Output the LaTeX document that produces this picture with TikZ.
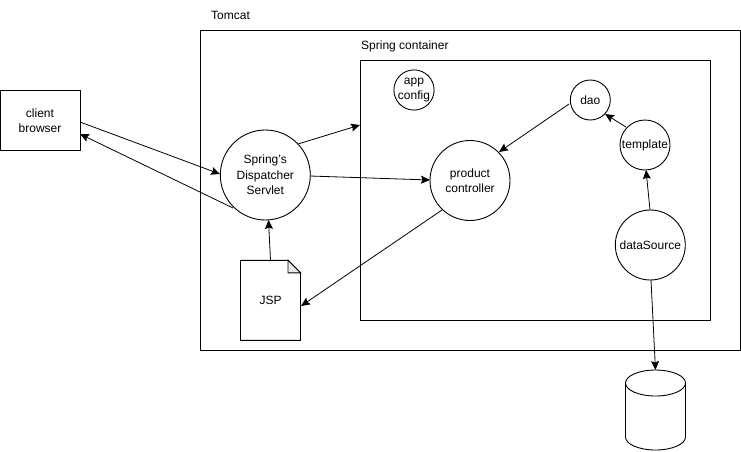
\documentclass[tikz,border=0pt]{standalone}
\usepackage{fontspec}
\setmainfont{Liberation Sans}
\usetikzlibrary{arrows.meta,shapes.geometric}
\tikzset{
  x=1pt,y=-1pt,
  box/.style={draw=black,line width=0.9pt,fill=white,inner sep=0,align=center,font=\fontsize{12}{15.5}\selectfont},
  circ/.style={box,circle},
  lbl/.style={inner sep=0,font=\fontsize{12}{15}\selectfont},
  link/.style={draw=black,line width=0.8pt,-{Stealth[length=9pt,width=8pt,inset=1.5pt]}},
}
\begin{document}
\begin{tikzpicture}
\useasboundingbox[fill=white] (0,0) rectangle (741,451);
\node[box,minimum width=540pt,minimum height=320pt] (tomcat) at (470.3,190) {};
\node[box,minimum width=350pt,minimum height=260pt] (spring) at (535.5,190.5) {};
\node[lbl,anchor=west] (tl) at (211,15.5) {Tomcat};
\node[lbl,anchor=west] (sl) at (361,46.5) {Spring container};
\node[box,minimum width=80pt,minimum height=60pt] (client) at (40,120.5) {client\\browser};
\node[circ,minimum size=90pt] (disp) at (265.3,175) {Spring's\\Dispatcher\\Servlet};
\node[circ,minimum size=80pt] (prod) at (470,180.5) {product\\controller};
\node[circ,minimum size=40pt] (app) at (414,90) {app\\config};
\node[circ,minimum size=40pt] (dao) at (590.3,100) {dao};
\node[circ,minimum size=50pt] (tpl) at (645,145) {template};
\node[circ,minimum size=70pt] (ds) at (650.3,245) {dataSource};
\draw[line width=0.9pt,fill=white] (240.5,260.3) -- (288,260.3) -- (300.5,272.8) -- (300.5,340.3) -- (240.5,340.3) -- cycle;
\draw[line width=0.9pt,fill=black!8] (288,260.3) -- (288,272.8) -- (300.5,272.8) -- cycle;
\node[lbl] (jsp) at (270.5,300) {JSP};
\coordinate (jsptop) at (270.5,260.3);
\coordinate (jspr) at (301,306);
\draw[line width=0.9pt,fill=white] (625.5,383) -- (625.5,437) arc[start angle=180,end angle=360,x radius=30,y radius=-13] -- (685.5,383) arc[start angle=0,end angle=180,x radius=30,y radius=-13] -- cycle;
\draw[line width=0.9pt] (625.5,383) arc[start angle=180,end angle=360,x radius=30,y radius=-13];
\coordinate (dbtop) at (655.5,370);
\coordinate (sc) at (360,125);
\draw[link] (80,122) -- (220,174);
\draw[link] (233,208) -- (80,134);
\draw[link] (298,144) -- (sc);
\draw[link] (310,176) -- (430,180);
\draw[link] (jsptop) -- (268.5,220);
\draw[link] (442,210) -- (jspr);
\draw[link] (569,104) -- (499,152);
\draw[link] (626,127) -- (605,114);
\draw[link] (650,210) -- (646,170);
\draw[link] (651,280) -- (dbtop);
\end{tikzpicture}
\end{document}
